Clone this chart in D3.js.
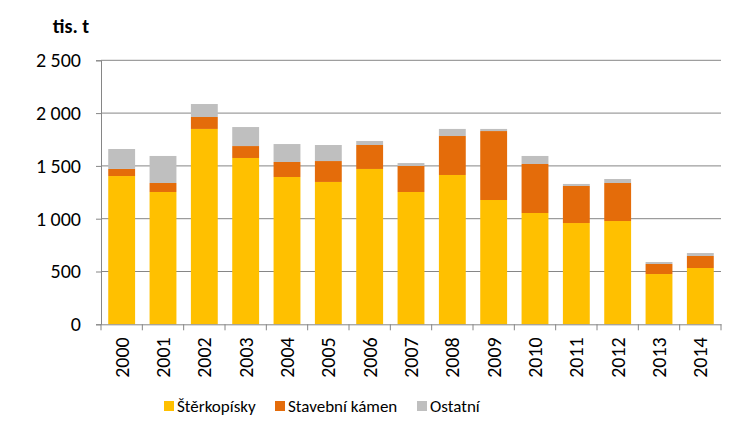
<!DOCTYPE html>
<html>
<head>
<meta charset="utf-8">
<script src="https://cdn.jsdelivr.net/npm/d3@7"></script>
<style>
  body { margin: 0; background: #fff; }
  svg text { font-family: Carlito, "Liberation Sans", Arial, sans-serif; fill: #000; }
</style>
</head>
<body>
<svg id="chart" width="750" height="439"></svg>
<script>
// data (tis. t)
var years = ["2000","2001","2002","2003","2004","2005","2006","2007","2008","2009","2010","2011","2012","2013","2014"];
var sterkopisky = [1404, 1253, 1850, 1575, 1395, 1348, 1471, 1253, 1414, 1177, 1054, 959, 978, 476, 533];
var kamen = [67, 85, 113, 113, 142, 198, 227, 246, 369, 653, 464, 351, 360, 95, 114];
var ostatni = [189, 256, 123, 180, 170, 152, 38, 28, 67, 20, 76, 19, 38, 19, 28];
var seriesNames = ["Štěrkopísky", "Stavební kámen", "Ostatní"];
var colors = ["#FFC000", "#E46C0A", "#BFBFBF"];
var yTicks = [0, 500, 1000, 1500, 2000, 2500];

var rows = years.map(function(y, i) {
    return { year: y, s: sterkopisky[i], k: kamen[i], o: ostatni[i] };
});

var mLeft = 101, mRight = 721, mTop = 60.3, mBottom = 324.3;
var svg = d3.select("#chart");

var x = d3.scaleBand().domain(years).range([mLeft, mRight]).paddingInner(0.35).paddingOuter(0.175);
var xb = d3.scaleBand().domain(years).range([mLeft, mRight]);
var y = d3.scaleLinear().domain([0, 2500]).range([mBottom, mTop]);

var fmt = function(d) { return d3.format(",")(d).replace(",", " "); };

// gridlines
svg.append("g").selectAll("line")
    .data(yTicks.filter(function(d) { return d > 0; }))
    .enter().append("line")
    .attr("x1", mLeft).attr("x2", mRight)
    .attr("y1", function(d) { return y(d); }).attr("y2", function(d) { return y(d); })
    .attr("stroke", "#868686").attr("stroke-width", 1);

// stacked bars
var stack = d3.stack().keys(["s", "k", "o"]);
var layers = stack(rows);
svg.append("g").selectAll("g")
    .data(layers)
    .enter().append("g")
    .attr("fill", function(d, i) { return colors[i]; })
    .selectAll("rect")
    .data(function(d) { return d; })
    .enter().append("rect")
    .attr("x", function(d) { return x(d.data.year); })
    .attr("width", x.bandwidth())
    .attr("y", function(d) { return y(d[1]); })
    .attr("height", function(d) { return y(d[0]) - y(d[1]); });

// y axis
var yAxis = svg.append("g")
    .attr("transform", "translate(" + mLeft + ",0)")
    .call(d3.axisLeft(y).tickValues(yTicks).tickFormat(fmt).tickSize(5).tickPadding(15));
yAxis.select(".domain").attr("stroke", "#868686");
yAxis.selectAll(".tick line").attr("stroke", "#868686");
yAxis.selectAll("text").style("font-size", "20px").attr("fill", "#000");

// x axis
var xAxis = svg.append("g")
    .attr("transform", "translate(0," + mBottom + ")")
    .call(d3.axisBottom(xb).tickSize(0).tickPadding(0));
xAxis.select(".domain").attr("stroke", "#868686");
xAxis.selectAll(".tick text")
    .style("font-size", "20px")
    .attr("fill", "#000")
    .attr("transform", "rotate(-90)")
    .attr("x", -13).attr("y", 0).attr("dy", "0.35em")
    .style("text-anchor", "end");
// band boundary ticks
svg.append("g").selectAll("line")
    .data(years.concat(["end"]))
    .enter().append("line")
    .attr("x1", function(d, i) { return i < years.length ? xb(d) : mRight; })
    .attr("x2", function(d, i) { return i < years.length ? xb(d) : mRight; })
    .attr("y1", mBottom).attr("y2", mBottom + 6)
    .attr("stroke", "#868686");

// unit label
svg.append("text").attr("x", 71).attr("y", 33)
    .attr("text-anchor", "middle")
    .style("font-size", "20px").style("font-weight", "bold")
    .text("tis. t");

// legend
var legendX = [164, 275, 417];
var lg = svg.append("g").selectAll("g")
    .data(seriesNames)
    .enter().append("g")
    .attr("transform", function(d, i) { return "translate(" + legendX[i] + ",401)"; });
lg.append("rect").attr("width", 10).attr("height", 10)
    .attr("fill", function(d, i) { return colors[i]; });
lg.append("text").attr("x", 13).attr("y", 5).attr("dy", "0.35em")
    .style("font-size", "17px")
    .text(function(d) { return d; });
</script>
</body>
</html>
